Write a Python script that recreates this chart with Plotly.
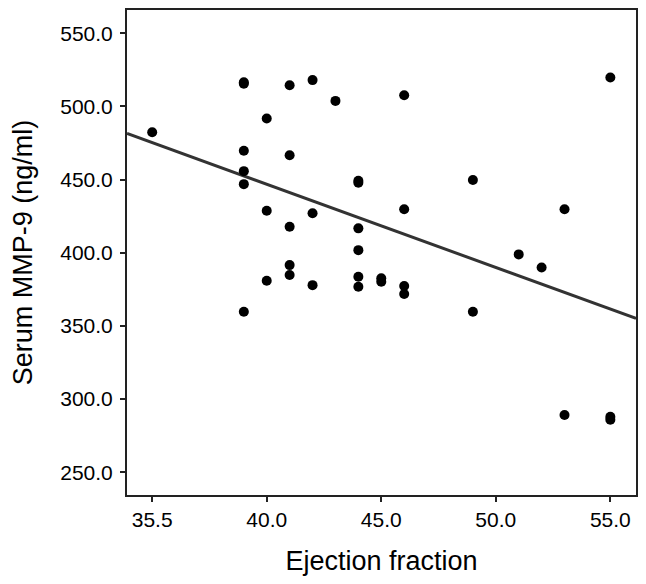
import plotly.graph_objects as go

# Data
ef = [35, 39, 39, 39, 39, 39, 39,
      40, 40, 40,
      41, 41, 41, 41, 41,
      42, 42, 42,
      43,
      44, 44, 44, 44, 44, 44,
      45, 45,
      46, 46, 46, 46,
      49, 49,
      51, 52,
      53, 53,
      55, 55, 55]
mmp9 = [482.4, 516.5, 515.5, 469.7, 455.8, 446.9, 359.7,
        491.8, 428.7, 380.9,
        514.5, 466.7, 417.8, 391.6, 384.8,
        518.0, 427.0, 377.9,
        503.8,
        449.2, 447.9, 416.7, 401.8, 383.6, 376.8,
        382.6, 380.2,
        507.7, 429.8, 377.3, 371.8,
        449.7, 359.7,
        398.9, 390.0,
        429.8, 289.2,
        519.8, 288.0, 286.0]

# Regression line end points
fit_x = [33.9, 56.12]
fit_y = [481.5, 355.2]

x_tickvals = [35, 40, 45, 50, 55]
x_ticktext = ["35.5", "40.0", "45.0", "50.0", "55.0"]
y_tickvals = [250, 300, 350, 400, 450, 500, 550]
y_ticktext = ["250.0", "300.0", "350.0", "400.0", "450.0", "500.0", "550.0"]

fig = go.Figure()
fig.add_trace(go.Scatter(x=fit_x, y=fit_y, mode="lines",
                         line=dict(color="#333333", width=3), hoverinfo="skip"))
fig.add_trace(go.Scatter(x=ef, y=mmp9, mode="markers",
                         marker=dict(color="black", size=10)))

font = "Liberation Sans, Arial, sans-serif"
fig.update_layout(
    width=646, height=584,
    margin=dict(l=119, r=18, t=2, b=97, autoexpand=False),
    plot_bgcolor="white", paper_bgcolor="white",
    showlegend=False,
    font=dict(family=font, color="black"),
)
fig.update_xaxes(
    range=[33.9, 56.12], tickvals=x_tickvals, ticktext=x_ticktext,
    showgrid=False, zeroline=False, showline=True, mirror=True,
    linecolor="#222222", linewidth=2, automargin=False,
    ticks="outside", ticklen=5, tickwidth=2, tickcolor="#222222",
    tickfont=dict(size=21, family=font, color="black"),
    title=dict(text="Ejection fraction", font=dict(size=27, family=font, color="black"),
               standoff=21),
)
fig.update_yaxes(
    range=[234.5, 565.9], tickvals=y_tickvals, ticktext=y_ticktext,
    showgrid=False, zeroline=False, showline=True, mirror=True,
    linecolor="#222222", linewidth=2, automargin=False,
    ticks="outside", ticklen=5, tickwidth=2, tickcolor="#222222",
    ticklabelstandoff=3,
    tickfont=dict(size=21, family=font, color="black"),
    title=dict(text="Serum MMP-9 (ng/ml)", font=dict(size=27, family=font, color="black"),
               standoff=31),
)
fig.write_html("out.html")
